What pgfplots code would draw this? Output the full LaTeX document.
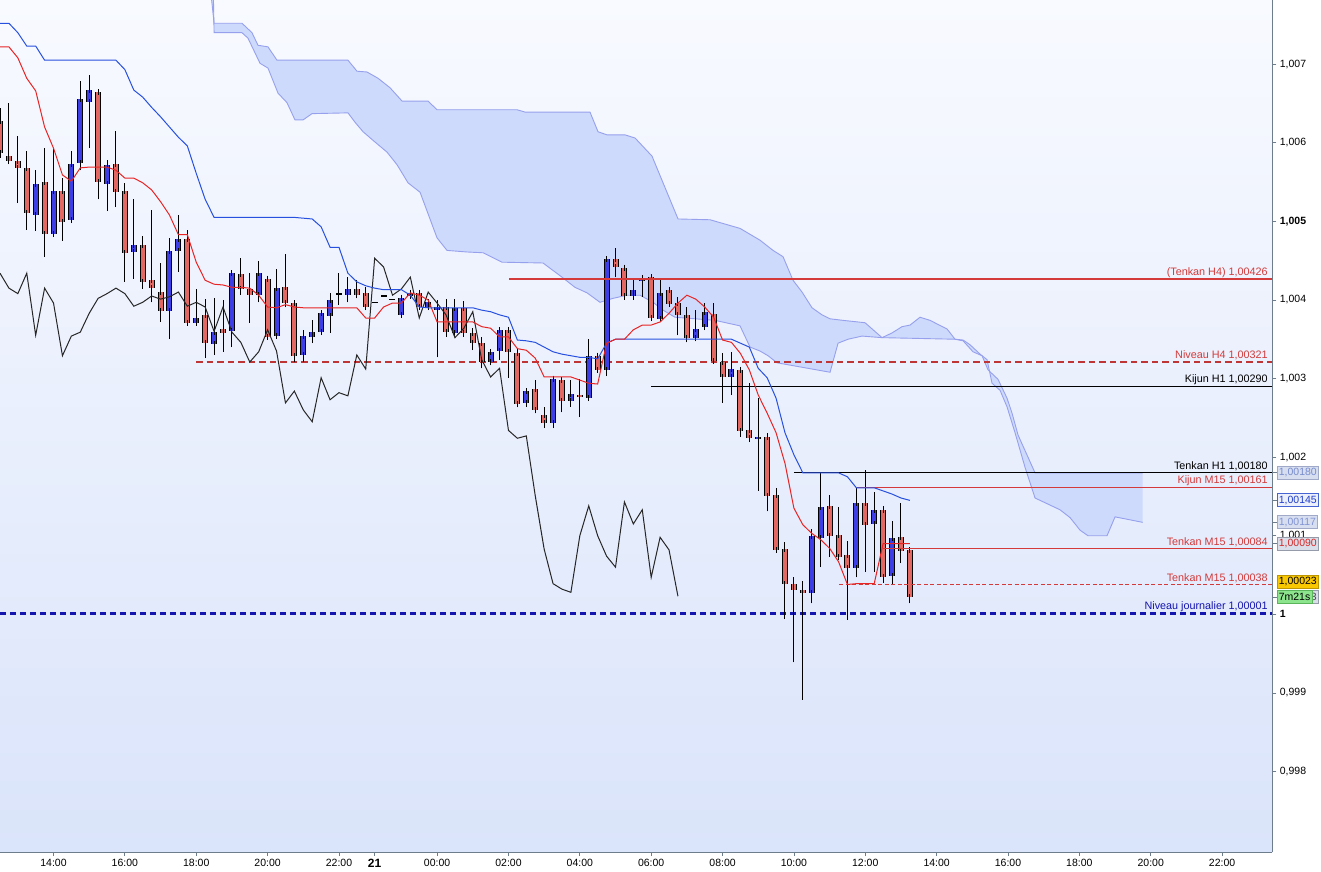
\documentclass[border=0pt]{standalone}
\usepackage{fontspec}
\setmainfont{Liberation Sans}
\usepackage{pgfplots}
\pgfplotsset{compat=1.18}
\usepackage{pgfplotstable}
\usepgfplotslibrary{fillbetween}

\definecolor{candred}{RGB}{226,104,99}
\definecolor{candblue}{RGB}{62,62,230}
\definecolor{tenkan}{RGB}{232,36,36}
\definecolor{kijun}{RGB}{40,80,222}
\definecolor{lvlred}{RGB}{212,58,58}
\definecolor{lvlblue}{RGB}{20,20,175}
\definecolor{cloudfill}{RGB}{205,218,252}
\definecolor{cloudline}{RGB}{150,160,236}
\definecolor{bgtop}{RGB}{248,250,255}
\definecolor{bgbot}{RGB}{218,228,250}
\definecolor{axisgray}{RGB}{110,125,140}

\newcommand{\lbl}{\fontsize{10.8}{12}\selectfont}
\newcommand{\tkl}{\fontsize{10.5}{12}\selectfont}

% bearish candles: index open high low close
\pgfplotstableread{
i o h l c
0 1.00628 1.00644 1.00581 1.00587
1 1.00584 1.00651 1.00577 1.00577
2 1.00577 1.00609 1.00523 1.00568
3 1.00568 1.00589 1.00489 1.00511
5 1.00550 1.00593 1.00455 1.00485
7 1.00539 1.00555 1.00475 1.00500
11 1.00665 1.00668 1.00528 1.00550
13 1.00574 1.00615 1.00518 1.00539
14 1.00539 1.00549 1.00423 1.00461
16 1.00470 1.00481 1.00414 1.00423
17 1.00425 1.00514 1.00397 1.00415
18 1.00411 1.00447 1.00372 1.00387
21 1.00478 1.00489 1.00371 1.00372
23 1.00382 1.00401 1.00326 1.00346
25 1.00364 1.00400 1.00334 1.00359
27 1.00434 1.00453 1.00406 1.00415
28 1.00415 1.00434 1.00371 1.00408
30 1.00429 1.00430 1.00354 1.00355
32 1.00416 1.00458 1.00391 1.00396
33 1.00396 1.00397 1.00321 1.00329
40 1.00415 1.00425 1.00402 1.00408
41 1.00409 1.00416 1.00387 1.00392
47 1.00410 1.00413 1.00391 1.00392
50 1.00391 1.00401 1.00353 1.00360
52 1.00391 1.00399 1.00353 1.00359
53 1.00359 1.00364 1.00336 1.00346
54 1.00346 1.00353 1.00313 1.00321
57 1.00363 1.00364 1.00301 1.00335
58 1.00335 1.00339 1.00264 1.00269
60 1.00287 1.00298 1.00256 1.00260
61 1.00255 1.00264 1.00237 1.00245
63 1.00299 1.00302 1.00257 1.00273
65 1.00280 1.00299 1.00251 1.00278
67 1.00330 1.00332 1.00311 1.00312
69 1.00453 1.00466 1.00429 1.00442
70 1.00442 1.00444 1.00400 1.00406
73 1.00429 1.00429 1.00374 1.00377
75 1.00414 1.00416 1.00392 1.00396
76 1.00396 1.00404 1.00355 1.00381
77 1.00381 1.00391 1.00346 1.00352
80 1.00383 1.00396 1.00324 1.00324
81 1.00321 1.00332 1.00269 1.00302
83 1.00312 1.00313 1.00226 1.00234
84 1.00234 1.00294 1.00219 1.00224
86 1.00227 1.00231 1.00131 1.00151
87 1.00153 1.00161 1.00081 1.00083
88 1.00084 1.00092 0.99994 1.00039
89 1.00039 1.00047 0.99939 1.00032
90 1.00032 1.00042 0.99891 1.00028
93 1.00138 1.00152 1.00073 1.00100
94 1.00101 1.00137 1.00072 1.00074
95 1.00077 1.00093 0.99993 1.00060
97 1.00143 1.00184 1.00054 1.00115
99 1.00133 1.00138 1.00040 1.00047
101 1.00100 1.00142 1.00065 1.00082
102 1.00082 1.00082 1.00014 1.00023
}\bear

% bullish candles
\pgfplotstableread{
i o h l c
4 1.00509 1.00565 1.00488 1.00549
6 1.00485 1.00593 1.00482 1.00539
8 1.00503 1.00589 1.00499 1.00574
9 1.00575 1.00679 1.00565 1.00656
10 1.00653 1.00686 1.00593 1.00668
12 1.00549 1.00578 1.00513 1.00573
15 1.00461 1.00528 1.00427 1.00470
19 1.00387 1.00479 1.00350 1.00464
20 1.00462 1.00508 1.00436 1.00478
22 1.00372 1.00414 1.00371 1.00378
24 1.00345 1.00402 1.00330 1.00360
26 1.00360 1.00438 1.00340 1.00434
29 1.00406 1.00450 1.00397 1.00434
31 1.00354 1.00439 1.00353 1.00415
34 1.00331 1.00362 1.00321 1.00354
35 1.00353 1.00374 1.00345 1.00359
36 1.00359 1.00387 1.00358 1.00383
37 1.00382 1.00409 1.00358 1.00402
39 1.00408 1.00429 1.00397 1.00415
45 1.00382 1.00405 1.00382 1.00404
46 1.00406 1.00411 1.00404 1.00410
48 1.00391 1.00400 1.00388 1.00397
49 1.00388 1.00400 1.00327 1.00391
51 1.00359 1.00401 1.00353 1.00391
55 1.00321 1.00336 1.00320 1.00334
56 1.00335 1.00366 1.00324 1.00362
59 1.00269 1.00288 1.00264 1.00284
62 1.00245 1.00303 1.00237 1.00301
64 1.00273 1.00298 1.00264 1.00282
66 1.00276 1.00350 1.00276 1.00330
68 1.00312 1.00455 1.00303 1.00453
71 1.00406 1.00425 1.00400 1.00414
72 1.00425 1.00430 1.00404 1.00429
74 1.00377 1.00425 1.00374 1.00410
78 1.00352 1.00387 1.00350 1.00364
79 1.00366 1.00396 1.00362 1.00385
82 1.00302 1.00334 1.00279 1.00313
85 1.00224 1.00275 1.00157 1.00227
91 1.00027 1.00109 1.00014 1.00100
92 1.00098 1.00181 1.00060 1.00138
96 1.00060 1.00161 1.00047 1.00143
98 1.00115 1.00156 1.00054 1.00133
100 1.00049 1.00119 1.00039 1.00098
}\bull

% doji candles (open = close)
\pgfplotstableread{
i o h l
38 1.00408 1.00434 1.00394
42 1.00397 1.00397 1.00397
43 1.00405 1.00405 1.00405
44 1.00401 1.00401 1.00401
}\doji

\pgfplotsset{
  candle/.style={draw=none, mark=none, forget plot, error bars/.cd, y explicit},
}

\begin{document}
\begin{tikzpicture}[x=1pt,y=1pt]
\begin{axis}[
  at={(0,0)}, anchor=south west,
  scale only axis, width=1272.3pt, height=852pt,
  xmin=0, xmax=142.63, ymin=0.996976, ymax=1.007816,
  axis background/.style={top color=bgtop, bottom color=bgbot},
  axis x line*=bottom, axis y line*=right,
  axis line style={draw=axisgray, line width=0.9pt, -},
  xtick={6,14,22,30,38,42,49,57,65,73,81,89,97,105,113,121,129,137},
  xticklabels={14:00,16:00,18:00,20:00,22:00,{\textbf{\fontsize{12}{12}\selectfont 21}},00:00,02:00,04:00,06:00,08:00,10:00,12:00,14:00,16:00,18:00,20:00,22:00},
  ytick={0.998,0.999,1,1.001,1.002,1.003,1.004,1.005,1.006,1.007},
  yticklabels={{0,998},{0,999},{\textbf{1}},{1,001},{1,002},{1,003},{1,004},{\textbf{1,005}},{1,006},{1,007}},
  xtick align=outside, ytick align=outside,
  major tick length=4pt,
  tick style={draw=axisgray, line width=0.8pt},
  tick label style={font=\tkl, text=black},
  clip mode=individual,
]

% ---- Ichimoku cloud (Senkou spans) ----
\addplot[name path=SA, draw=cloudline, line width=0.9pt, forget plot] coordinates {
(23.43,1.00813) (24.0,1.00752) (27.13,1.00752) (28.25,1.00740) (28.92,1.00724) (30.04,1.00722) (31.05,1.00705) (39.01,1.00705) (40.02,1.00691) (41.14,1.00690) (42.38,1.00682) (43.72,1.00670) (45.07,1.00653) (47.98,1.00653) (48.99,1.00642) (57.96,1.00642) (58.86,1.00639) (66.14,1.00639) (67.04,1.00614) (68.05,1.00610) (70.07,1.00610) (71.19,1.00606) (73.09,1.00583) (74.33,1.00549) (76.01,1.00503) (79.60,1.00502) (82.96,1.00491) (85.20,1.00476) (86.66,1.00463) (87.78,1.00455) (88.90,1.00425) (89.91,1.00410) (91.03,1.00390) (92.15,1.00381) (93.05,1.00376) (94.51,1.00374) (96.97,1.00371) (98.88,1.00352) (100.0,1.00358) (101.12,1.00366) (102.02,1.00368) (103.14,1.00378) (104.26,1.00374) (106.17,1.00363) (107.06,1.00350) (107.96,1.00348) (109.08,1.00334) (110.09,1.00329) (110.76,1.00311) (111.88,1.00299) (112.89,1.00275) (113.45,1.00256) (114.13,1.00228) (116.03,1.00180) (128.1,1.00180)};
\addplot[name path=SB, draw=cloudline, line width=0.9pt, forget plot] coordinates {
(23.88,1.00813) (24.0,1.00740) (27.13,1.00740) (27.80,1.00733) (29.15,1.00701) (30.04,1.00695) (31.17,1.00663) (32.17,1.00651) (33.07,1.00629) (33.97,1.00629) (34.98,1.00637) (39.01,1.00638) (39.80,1.00626) (40.70,1.00614) (41.82,1.00603) (43.39,1.00588) (44.51,1.00572) (45.74,1.00549) (47.09,1.00537) (48.99,1.00479) (50.11,1.00463) (52.35,1.00461) (54.15,1.00460) (56.28,1.00448) (60.87,1.00447) (63.00,1.00429) (64.46,1.00416) (65.81,1.00409) (67.26,1.00397) (68.72,1.00402) (70.29,1.00406) (71.75,1.00406) (73.21,1.00397) (74.33,1.00387) (75.67,1.00378) (80.16,1.00374) (82.96,1.00367) (84.08,1.00340) (85.20,1.00335) (86.10,1.00329) (87.11,1.00320) (93.05,1.00308) (93.95,1.00345) (95.07,1.00350) (96.64,1.00354) (98.88,1.00352) (107.06,1.00350) (107.96,1.00349) (108.74,1.00343) (109.87,1.00331) (110.65,1.00324) (111.21,1.00294) (112.11,1.00285) (112.89,1.00264) (113.79,1.00231) (114.91,1.00187) (116.03,1.00148) (118.83,1.00133) (119.96,1.00123) (121.08,1.00107) (121.97,1.00100) (124.10,1.00100) (125.00,1.00124) (128.1,1.00117)};
\addplot[fill=cloudfill, draw=none, forget plot] fill between[of=SA and SB];

% ---- horizontal levels ----
\addplot[lvlblue, line width=2.4pt, dash pattern=on 6pt off 4pt, forget plot] coordinates {(0,1.00001) (142.63,1.00001)};
\addplot[lvlred!90!black, line width=2.2pt, dash pattern=on 6.5pt off 4pt, forget plot] coordinates {(22.0,1.00321) (142.63,1.00321)};

% ---- candles: wicks ----
\addplot[candle, y dir=plus, error mark=none, error bar style={draw=black, line width=1pt}]
  table[x=i, y=l, y error plus expr=\thisrow{h}-\thisrow{l}] {\bear};
\addplot[candle, y dir=plus, error mark=none, error bar style={draw=black, line width=1pt}]
  table[x=i, y=l, y error plus expr=\thisrow{h}-\thisrow{l}] {\bull};
\addplot[candle, y dir=plus, error mark=none, error bar style={draw=black, line width=1pt}]
  table[x=i, y=l, y error plus expr=\thisrow{h}-\thisrow{l}] {\doji};

% ---- candles: bodies ----
\addplot[candle, y dir=both, error mark=none, error bar style={draw=black, line width=6pt}]
  table[x=i, y expr=(\thisrow{o}+\thisrow{c})/2, y error expr=abs(\thisrow{o}-\thisrow{c})/2] {\bear};
\addplot[candle, y dir=both, error mark=-, error mark options={draw=black, line width=1pt, mark size=3pt}, error bar style={draw=candred, line width=4pt}]
  table[x=i, y expr=(\thisrow{o}+\thisrow{c})/2, y error expr=abs(\thisrow{o}-\thisrow{c})/2] {\bear};
\addplot[candle, y dir=both, error mark=none, error bar style={draw=black, line width=6pt}]
  table[x=i, y expr=(\thisrow{o}+\thisrow{c})/2, y error expr=abs(\thisrow{o}-\thisrow{c})/2] {\bull};
\addplot[candle, y dir=both, error mark=-, error mark options={draw=black, line width=1pt, mark size=3pt}, error bar style={draw=candblue, line width=4pt}]
  table[x=i, y expr=(\thisrow{o}+\thisrow{c})/2, y error expr=abs(\thisrow{o}-\thisrow{c})/2] {\bull};
\addplot[candle, y dir=both, error mark=none, error bar style={draw=black, line width=6pt}]
  table[x=i, y=o, y error expr=0.000008] {\doji};

% ---- other levels ----
\addplot[lvlred, line width=2pt, forget plot] coordinates {(57.1,1.00426) (142.63,1.00426)};
\addplot[black, line width=1pt, forget plot] coordinates {(73.0,1.00290) (142.63,1.00290)};
\addplot[black, line width=1pt, forget plot] coordinates {(89.0,1.00180) (142.63,1.00180)};
\addplot[lvlred, line width=1pt, forget plot] coordinates {(96.1,1.00161) (142.63,1.00161)};
\addplot[lvlred, line width=1pt, forget plot] coordinates {(99.0,1.00084) (142.63,1.00084)};
\addplot[lvlred, line width=1pt, dash pattern=on 4pt off 2.5pt, forget plot] coordinates {(94.1,1.00038) (142.63,1.00038)};

% ---- Chikou span (close shifted back 26 bars) ----
\addplot[black!85, line width=1pt, forget plot] coordinates {
(0,1.00434)(1,1.00415)(2,1.00408)(3,1.00434)(4,1.00355)(5,1.00415)(6,1.00396)(7,1.00329)(8,1.00354)(9,1.00359)(10,1.00383)(11,1.00402)(12,1.00408)(13,1.00415)(14,1.00408)(15,1.00392)(16,1.00397)(17,1.00405)(18,1.00401)(19,1.00404)(20,1.00410)(21,1.00392)(22,1.00397)(23,1.00391)(24,1.00360)(25,1.00391)(26,1.00359)(27,1.00346)(28,1.00321)(29,1.00334)(30,1.00362)(31,1.00335)(32,1.00269)(33,1.00284)(34,1.00260)(35,1.00245)(36,1.00301)(37,1.00273)(38,1.00282)(39,1.00278)(40,1.00330)(41,1.00312)(42,1.00453)(43,1.00442)(44,1.00406)(45,1.00414)(46,1.00429)(47,1.00377)(48,1.00410)(49,1.00396)(50,1.00381)(51,1.00352)(52,1.00364)(53,1.00385)(54,1.00324)(55,1.00302)(56,1.00313)(57,1.00234)(58,1.00224)(59,1.00227)(60,1.00151)(61,1.00083)(62,1.00039)(63,1.00032)(64,1.00028)(65,1.00100)(66,1.00138)(67,1.00100)(68,1.00074)(69,1.00060)(70,1.00143)(71,1.00115)(72,1.00133)(73,1.00047)(74,1.00098)(75,1.00082)(76,1.00023)};

% ---- Kijun M15 ----
\addplot[kijun, line width=1pt, forget plot] coordinates {
(0,1.00752)(1,1.00752)(2,1.00740)(3,1.00723)(4,1.00723)(5,1.00705)(6,1.00705)(7,1.00705)(8,1.00705)(9,1.00705)(10,1.00705)(11,1.00705)(12,1.00705)(13,1.00705)(14,1.00693)(15,1.00667)(16,1.00658)(17,1.00645)(18,1.00633)(19,1.00620)(20,1.00607)(21,1.00596)(22,1.00561)(23,1.00528)(24,1.00505)(25,1.00505)(26,1.00505)(27,1.00505)(28,1.00505)(29,1.00505)(30,1.00505)(31,1.00505)(32,1.00505)(33,1.00505)(34,1.00504)(35,1.00503)(36,1.00493)(37,1.00467)(38,1.00467)(39,1.00434)(40,1.00423)(41,1.00418)(42,1.00415)(43,1.00413)(44,1.00413)(45,1.00413)(46,1.00406)(47,1.00391)(48,1.00390)(49,1.00390)(50,1.00390)(51,1.00390)(52,1.00390)(53,1.00390)(54,1.00387)(55,1.00385)(56,1.00381)(57,1.00378)(58,1.00349)(59,1.00348)(60,1.00346)(61,1.00340)(62,1.00334)(63,1.00331)(64,1.00329)(65,1.00327)(66,1.00327)(67,1.00325)(68,1.00345)(69,1.00350)(70,1.00350)(71,1.00350)(72,1.00350)(73,1.00350)(74,1.00350)(75,1.00350)(76,1.00350)(77,1.00350)(78,1.00350)(79,1.00350)(80,1.00350)(81,1.00350)(82,1.00350)(83,1.00345)(84,1.00340)(85,1.00313)(86,1.00301)(87,1.00275)(88,1.00231)(89,1.00203)(90,1.00180)(91,1.00180)(92,1.00180)(93,1.00180)(94,1.00180)(95,1.00175)(96,1.00161)(97,1.00161)(98,1.00161)(99,1.00157)(100,1.00153)(101,1.00148)(102,1.00145)};

% ---- Tenkan M15 ----
\addplot[tenkan, line width=1pt, forget plot] coordinates {
(0,1.00722)(1,1.00722)(2,1.00708)(3,1.00682)(4,1.00666)(5,1.00620)(6,1.00593)(7,1.00559)(8,1.00551)(9,1.00568)(10,1.00569)(11,1.00569)(12,1.00569)(13,1.00565)(14,1.00555)(15,1.00555)(16,1.00549)(17,1.00540)(18,1.00525)(19,1.00508)(20,1.00483)(21,1.00483)(22,1.00448)(23,1.00425)(24,1.00420)(25,1.00419)(26,1.00416)(27,1.00416)(28,1.00415)(29,1.00406)(30,1.00391)(31,1.00390)(32,1.00394)(33,1.00391)(34,1.00390)(35,1.00390)(36,1.00390)(37,1.00390)(38,1.00390)(39,1.00390)(40,1.00390)(41,1.00377)(42,1.00377)(43,1.00391)(44,1.00396)(45,1.00396)(46,1.00409)(47,1.00406)(48,1.00400)(49,1.00372)(50,1.00372)(51,1.00372)(52,1.00372)(53,1.00372)(54,1.00366)(55,1.00364)(56,1.00353)(57,1.00353)(58,1.00338)(59,1.00336)(60,1.00326)(61,1.00302)(62,1.00302)(63,1.00302)(64,1.00302)(65,1.00298)(66,1.00294)(67,1.00293)(68,1.00345)(69,1.00350)(70,1.00350)(71,1.00362)(72,1.00368)(73,1.00368)(74,1.00372)(75,1.00383)(76,1.00396)(77,1.00406)(78,1.00401)(79,1.00391)(80,1.00378)(81,1.00349)(82,1.00346)(83,1.00332)(84,1.00311)(85,1.00279)(86,1.00256)(87,1.00231)(88,1.00192)(89,1.00135)(90,1.00114)(91,1.00103)(92,1.00095)(93,1.00084)(94,1.00067)(95,1.00038)(96,1.00039)(97,1.00039)(98,1.00039)(99,1.00090)(100,1.00090)(101,1.00090)(102,1.00090)};

% ---- level labels ----
\node[anchor=south east, inner sep=1.5pt, text=lvlred, font=\lbl] at (axis cs:142.3,1.00426) {(Tenkan H4) 1,00426};
\node[anchor=south east, inner sep=1.5pt, text=lvlred, font=\lbl] at (axis cs:142.3,1.00321) {Niveau H4 1,00321};
\node[anchor=south east, inner sep=1.5pt, text=black, font=\lbl] at (axis cs:142.3,1.00290) {Kijun H1 1,00290};
\node[anchor=south east, inner sep=1.5pt, text=black, font=\lbl] at (axis cs:142.3,1.00180) {Tenkan H1 1,00180};
\node[anchor=south east, inner sep=1.5pt, text=lvlred, font=\lbl] at (axis cs:142.3,1.00161) {Kijun M15 1,00161};
\node[anchor=south east, inner sep=1.5pt, text=lvlred, font=\lbl] at (axis cs:142.3,1.00084) {Tenkan M15 1,00084};
\node[anchor=south east, inner sep=1.5pt, text=lvlred, font=\lbl] at (axis cs:142.3,1.00038) {Tenkan M15 1,00038};
\node[anchor=south east, inner sep=1.5pt, text=lvlblue, font=\lbl] at (axis cs:142.3,1.00001) {Niveau journalier 1,00001};

\coordinate (p180) at (axis cs:142.63,1.00180);
\coordinate (p145) at (axis cs:142.63,1.00145);
\coordinate (p117) at (axis cs:142.63,1.00117);
\coordinate (p090) at (axis cs:142.63,1.00090);
\coordinate (p041) at (axis cs:142.63,1.000417);
\coordinate (p023) at (axis cs:142.63,1.00022);
\end{axis}

% ---- price boxes on the right scale ----
\tikzset{pbox/.style={anchor=west, font=\tkl, inner xsep=1.6pt, inner ysep=0pt, minimum height=13pt, line width=0.8pt}}
\foreach \p in {p180,p145,p117,p090,p023} {\draw[axisgray, line width=0.8pt] (\p) -- ++(5,0);}
\node[pbox, fill={rgb,255:red,214;green,222;blue,240}, draw={rgb,255:red,160;green,170;blue,200}, text={rgb,255:red,120;green,140;blue,205}] at ([xshift=4.5pt]p180) {1,00180};
\node[pbox, fill={rgb,255:red,236;green,240;blue,252}, draw={rgb,255:red,70;green,100;blue,210}, text={rgb,255:red,30;green,60;blue,205}] at ([xshift=4.5pt]p145) {1,00145};
\node[pbox, fill={rgb,255:red,214;green,222;blue,240}, draw={rgb,255:red,160;green,170;blue,200}, text={rgb,255:red,130;green,148;blue,212}] at ([xshift=4.5pt]p117) {1,00117};
\node[pbox, fill={rgb,255:red,218;green,222;blue,232}, draw={rgb,255:red,150;green,155;blue,170}, text={rgb,255:red,215;green,40;blue,40}] at ([xshift=4.5pt]p090) {1,00090};
\node[pbox, fill={rgb,255:red,218;green,222;blue,232}, draw={rgb,255:red,150;green,155;blue,170}, text={rgb,255:red,70;green,70;blue,80}] at ([xshift=4.5pt]p023) {1,00023};
\node[pbox, fill={rgb,255:red,250;green,200;blue,0}, draw={rgb,255:red,190;green,150;blue,0}, text=black] at ([xshift=4.5pt]p041) {1,00023};
\node[pbox, fill={rgb,255:red,140;green,228;blue,140}, draw={rgb,255:red,90;green,180;blue,90}, text=black] at ([xshift=4.5pt]p023) {7m21s};

\pgfresetboundingbox
\useasboundingbox (0,-19) rectangle (1321,852);
\end{tikzpicture}
\end{document}
